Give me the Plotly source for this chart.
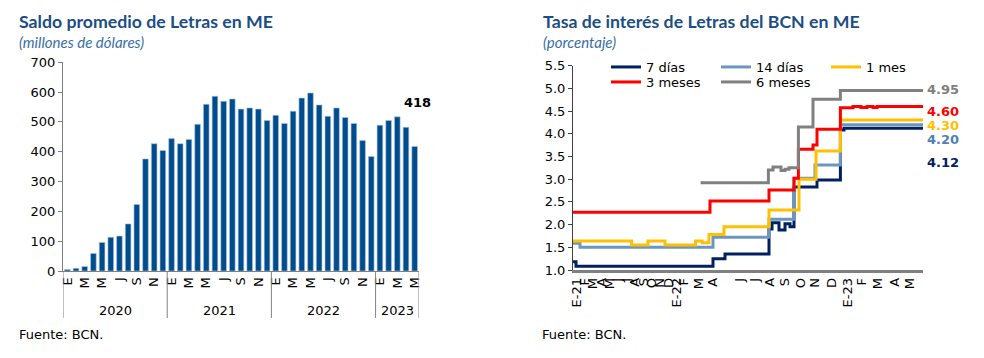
import plotly.graph_objects as go

# ---------------- Left chart data ----------------
months_left = ["E", "F", "M", "A", "M", "J", "J", "A", "S", "O", "N", "D"] * 3 + ["E", "F", "M", "A", "M"]
years_left = ["2020", "2021", "2022", "2023"]
saldo = [5, 9, 15, 59, 96, 113, 117, 158, 223, 376, 427, 404,
         444, 427, 441, 492, 559, 586, 569, 577, 543, 547, 543, 505,
         522, 495, 536, 580, 597, 557, 519, 547, 515, 495, 438, 384,
         489, 505, 517, 482, 418]

# ---------------- Right chart data ----------------
# x = observation index on the category axis (2021 weekly, 2022-23 more frequent)
tick_pos_right = [1.8, 6.0, 10.1, 14.3, 18.5, 22.6, 26.8, 31.0, 35.2, 39.3, 43.5, 47.7,
                  51.8, 55.2, 62.7, 69.8, 83.5, 91.0, 98.5, 106.0, 113.8, 121.0, 129.3,
                  137.6, 144.4, 152.6, 161.0, 168.5]
tick_txt_right = ["E-21", "F", "M", "A", "M", "J", "J", "A", "S", "O", "N", "D",
                  "E-22", "F", "M", "A", "J", "J", "A", "S", "O", "N", "D",
                  "E-23", "F", "M", "A", "M"]

d7_x = [0, 1.5, 70, 76, 98, 99.5, 103, 106, 108.5, 110.5, 122, 133.7, 135.5, 175]
d7_y = [1.18, 1.08, 1.25, 1.35, 1.90, 2.04, 1.88, 2.02, 1.95, 2.83, 2.98, 4.08, 4.12, 4.12]

d14_x = [0, 3.5, 70, 98, 110.5, 121, 133.7, 175]
d14_y = [1.59, 1.50, 1.72, 2.12, 3.02, 3.31, 4.20, 4.20]

m1_x = [0, 29.3, 37.5, 46, 61.3, 64.5, 68, 75.5, 98, 113, 121.5, 133.7, 175]
m1_y = [1.64, 1.55, 1.64, 1.55, 1.64, 1.60, 1.78, 1.95, 2.32, 3.00, 3.62, 4.30, 4.30]

m3_x = [0, 68.5, 98, 110.5, 112.7, 120, 122, 133.7, 140, 144, 147, 150, 152, 175]
m3_y = [2.27, 2.52, 2.76, 3.02, 3.66, 3.75, 4.10, 4.57, 4.60, 4.58, 4.60, 4.58, 4.60, 4.60]

m6_x = [63.8, 97.7, 100, 104, 106, 108, 112.7, 120, 133.7, 175]
m6_y = [2.92, 3.20, 3.27, 3.19, 3.22, 3.25, 4.15, 4.76, 4.95, 4.95]

series = [
    ("7 días", d7_x, d7_y, "#002060", "legend"),
    ("14 días", d14_x, d14_y, "#6A97C2", "legend"),
    ("1 mes", m1_x, m1_y, "#FFC000", "legend"),
    ("3 meses", m3_x, m3_y, "#FF0000", "legend2"),
    ("6 meses", m6_x, m6_y, "#808080", "legend2"),
]
end_labels = ["4.95", "4.60", "4.30", "4.20", "4.12"]
end_colors = ["#808080", "#FF0000", "#FFC000", "#4F81B0", "#002060"]
end_label_y = [4.98, 4.50, 4.19, 3.87, 3.36]

TICKFONT = dict(family="DejaVu Sans", size=13, color="#000000")

# page has an 8px body margin; figure sized to fit the window
OFF = 8
W, H = 984 - OFF, 358 - OFF


def fx(p):
    return (p - OFF) / W


def fy(p):
    return (H - (p - OFF)) / H


fig = go.Figure()

fig.add_trace(go.Bar(
    x=list(range(len(saldo))), y=saldo, xaxis="x", yaxis="y",
    marker=dict(color="#004C8C", line=dict(color="#A9C6E3", width=0.6)),
    showlegend=False, hoverinfo="y"))

for name, xs, ys, col, lg in series:
    fig.add_trace(go.Scatter(
        x=xs, y=ys, xaxis="x2", yaxis="y2", mode="lines", name=name,
        line=dict(color=col, width=3, shape="hv"), legend=lg))

LEGFONT = dict(family="DejaVu Sans", size=13, color="#000")
fig.update_layout(
    width=W, height=H, margin=dict(l=0, r=0, t=0, b=0, autoexpand=False),
    paper_bgcolor="white", plot_bgcolor="white",
    bargap=0.35,
    xaxis=dict(domain=[fx(63), fx(419)], range=[-0.5, len(saldo) - 0.5],
               tickmode="array", tickvals=list(range(0, len(saldo), 2)),
               ticktext=months_left[0::2], tickangle=-90, ticks="",
               tickfont=TICKFONT, showline=True, linecolor="#808080",
               linewidth=1, showgrid=False, zeroline=False, anchor="y",
               automargin=False),
    yaxis=dict(domain=[fy(271), fy(62.3)], range=[0, 700],
               tickvals=list(range(0, 701, 100)), ticks="outside", ticklen=4,
               tickcolor="#808080", tickfont=TICKFONT, showline=True,
               linecolor="#808080", linewidth=1, showgrid=False, zeroline=False,
               anchor="x", automargin=False),
    xaxis2=dict(domain=[fx(573), fx(923)], range=[0, 175],
                tickmode="array", tickvals=tick_pos_right, ticktext=tick_txt_right,
                tickangle=-90, ticks="", tickfont=TICKFONT, showline=True,
                linecolor="#808080", linewidth=2.5, showgrid=False, zeroline=False,
                anchor="y2", automargin=False),
    yaxis2=dict(domain=[fy(270), fy(65.6)], range=[1, 5.5],
                tickvals=[1 + 0.5 * i for i in range(10)], tickformat=".1f",
                ticks="outside", ticklen=4, tickcolor="#404040", tickfont=TICKFONT,
                showline=True, linecolor="#404040", linewidth=1, showgrid=False,
                zeroline=False, anchor="x2", automargin=False),
    legend=dict(orientation="h", x=fx(606), xanchor="left", y=fy(52),
                yanchor="top", font=LEGFONT,
                entrywidth=65, entrywidthmode="pixels", bgcolor="rgba(0,0,0,0)",
                itemwidth=30, tracegroupgap=0),
    legend2=dict(orientation="h", x=fx(606), xanchor="left", y=fy(67),
                 yanchor="top", font=LEGFONT,
                 entrywidth=65, entrywidthmode="pixels", bgcolor="rgba(0,0,0,0)",
                 itemwidth=30, tracegroupgap=0),
)

shapes = []
for b in [-0.5, 11.5, 23.5, 35.5, len(saldo) - 0.5]:
    shapes.append(dict(type="line", xref="x", yref="paper", x0=b, x1=b,
                       y0=fy(271), y1=fy(318),
                       line=dict(color="#808080", width=1)))
fig.update_layout(shapes=shapes)

ann = []
year_centers = [5.5, 17.5, 29.5, 38]
for yr, xc in zip(years_left, year_centers):
    ann.append(dict(x=xc, y=fy(310), xref="x", yref="paper", text=yr,
                    showarrow=False, font=TICKFONT, xanchor="center", yanchor="middle"))
ann.append(dict(x=len(saldo) - 1, y=saldo[-1], xref="x", yref="y", text="<b>%d</b>" % saldo[-1],
                showarrow=False, yshift=44, xshift=3,
                font=dict(family="DejaVu Sans", size=13, color="#000")))
for t, c, yv in zip(end_labels, end_colors, end_label_y):
    ann.append(dict(x=fx(925), y=yv, xref="paper", yref="y2", text="<b>%s</b>" % t,
                    showarrow=False, xanchor="left", yanchor="middle",
                    font=dict(family="DejaVu Sans", size=13, color=c)))
TITLE = dict(family="Lato", size=17.7, color="#1B4E85")
SUB = dict(family="Lato", size=15, color="#3A6EA5")
ann += [
    dict(x=fx(17), y=fy(21), xref="paper", yref="paper", xanchor="left", yanchor="middle",
         text="<b>Saldo promedio de Letras en ME</b>", showarrow=False, font=TITLE),
    dict(x=fx(17), y=fy(42), xref="paper", yref="paper", xanchor="left", yanchor="middle",
         text="<i>(millones de dólares)</i>", showarrow=False, font=SUB),
    dict(x=fx(541), y=fy(21), xref="paper", yref="paper", xanchor="left", yanchor="middle",
         text="<b>Tasa de interés de Letras del BCN en ME</b>", showarrow=False, font=TITLE),
    dict(x=fx(541), y=fy(42), xref="paper", yref="paper", xanchor="left", yanchor="middle",
         text="<i>(porcentaje)</i>", showarrow=False, font=SUB),
    dict(x=fx(17), y=fy(334), xref="paper", yref="paper", xanchor="left", yanchor="middle",
         text="Fuente: BCN.", showarrow=False, font=TICKFONT),
    dict(x=fx(540), y=fy(334), xref="paper", yref="paper", xanchor="left", yanchor="middle",
         text="Fuente: BCN.", showarrow=False, font=TICKFONT),
]
fig.update_layout(annotations=ann)

fig.write_html("out.html")
